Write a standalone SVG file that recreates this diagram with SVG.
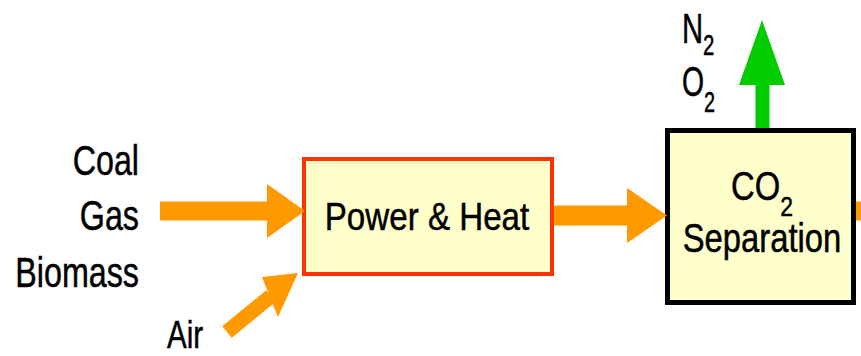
<svg xmlns="http://www.w3.org/2000/svg" width="861" height="356" viewBox="0 0 861 356">
  <style>
    .lbl { font-family: "Liberation Sans", Arial, sans-serif; fill: #000; stroke: #000; stroke-width: 0.5; }
    .box { fill: #FFFFCC; }
    .flow { fill: #FF9900; }
    .out { fill: #00CC00; }
  </style>
  <rect width="861" height="356" fill="#FFFFFF"/>

  <g id="inputs">
    <text class="lbl" font-size="43" text-anchor="end" transform="translate(139,175) scale(0.75,1)">Coal</text>
    <text class="lbl" font-size="43" text-anchor="end" transform="translate(139,230) scale(0.75,1)">Gas</text>
    <text class="lbl" font-size="43" text-anchor="end" transform="translate(139,287) scale(0.75,1)">Biomass</text>
  </g>

  <g id="air">
    <text class="lbl" font-size="39" transform="translate(167,348) scale(0.76,1)">Air</text>
  </g>

  <g id="power-heat">
    <rect class="box" x="304" y="159" width="248" height="115" stroke="#FF3300" stroke-width="4"/>
    <text class="lbl" font-size="39" text-anchor="middle" transform="translate(427,230) scale(0.85,1)">Power &amp; Heat</text>
  </g>

  <g id="co2-separation">
    <rect class="box" x="667.5" y="130.5" width="186" height="172" stroke="#000000" stroke-width="5"/>
    <text class="lbl" font-size="40" text-anchor="middle" transform="translate(762,200) scale(0.82,1)">CO<tspan font-size="28" dy="16">2</tspan></text>
    <text class="lbl" font-size="40" text-anchor="middle" transform="translate(762,251.5) scale(0.82,1)">Separation</text>
  </g>

  <g id="exhaust">
    <text class="lbl" font-size="43" transform="translate(682,42.5) scale(0.68,1)">N<tspan font-size="30" dy="12.5">2</tspan></text>
    <text class="lbl" font-size="43" transform="translate(682,96) scale(0.66,1)">O<tspan font-size="30" dy="15.5">2</tspan></text>
  </g>

  <g id="connectors">
    <polygon class="flow" points="160,201.5 267,201.5 267,184 305,211 267,238 267,220.5 160,220.5"/>
    <line x1="227" y1="332" x2="271" y2="296" stroke="#FF9900" stroke-width="15"/>
    <polygon class="flow" points="262,277 298,273 278,317"/>
    <polygon class="flow" points="554,205.5 627,205.5 627,188 667,215.5 627,243 627,225.5 554,225.5"/>
    <polygon class="out" points="755.5,128 755.5,85 739,85 762,20 785,85 769.5,85 769.5,128"/>
    <rect class="flow" x="856" y="201.5" width="10" height="19"/>
  </g>
</svg>
